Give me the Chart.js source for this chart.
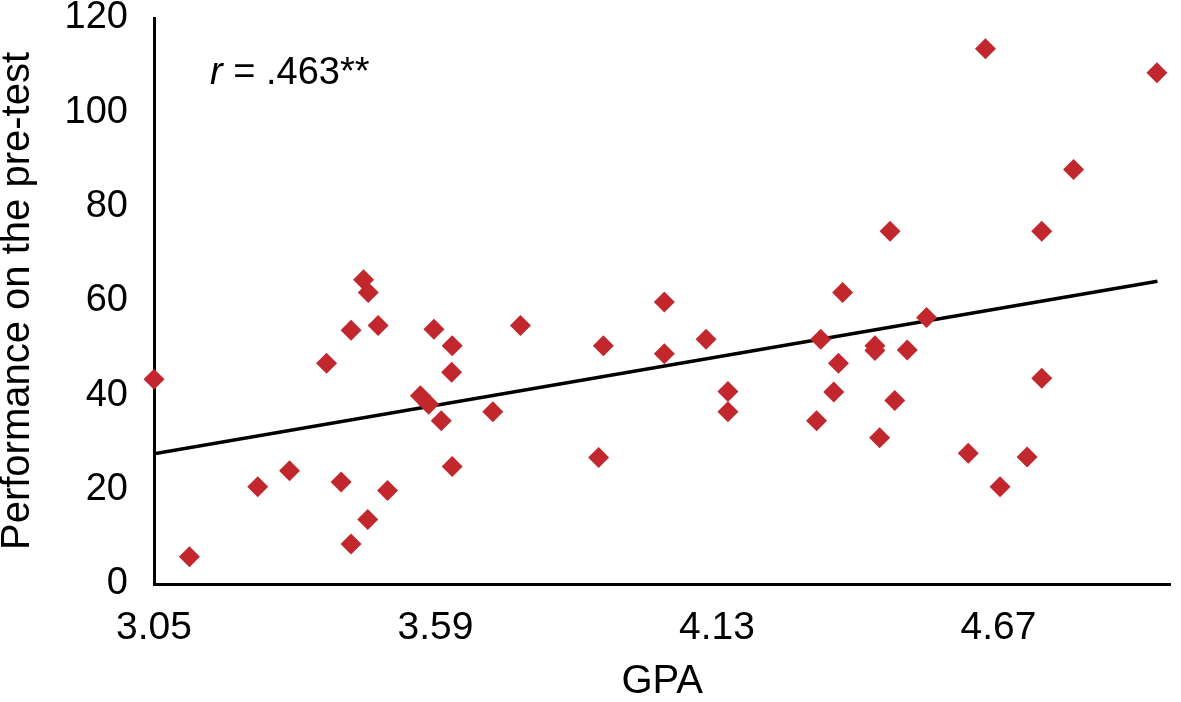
<!DOCTYPE html>
<html>
<head>
<meta charset="utf-8">
<script src="https://cdn.jsdelivr.net/npm/chart.js@4"></script>
<style>
  body { margin: 0; background: #fff; }
</style>
</head>
<body>
<canvas id="graficaGPA" width="1181" height="702"></canvas>
<script>
// datos
const gpa = [3.05, 3.118, 3.249, 3.310, 3.381, 3.428, 3.480, 3.452, 3.461, 3.409,
  3.498, 3.460, 3.428, 3.587, 3.622, 3.621, 3.561, 3.577, 3.601, 3.622,
  3.700, 3.753, 3.912, 3.903, 4.029, 4.029, 4.109, 4.151, 4.151, 4.371,
  4.329, 4.363, 4.354, 4.321, 4.433, 4.433, 4.495, 4.471, 4.442, 4.532,
  4.462, 4.753, 4.645, 4.974, 4.814, 4.753, 4.612, 4.725, 4.673];
const pretest = [43.4, 5.8, 20.6, 24.0, 46.8, 53.8, 54.8, 64.5, 61.8, 21.6,
  19.8, 13.7, 8.5, 54.0, 50.5, 44.9, 39.9, 38.1, 34.6, 24.9,
  36.5, 54.8, 50.5, 26.8, 59.8, 48.8, 51.9, 40.8, 36.5, 61.8,
  51.9, 46.8, 40.7, 34.6, 50.5, 49.5, 49.6, 38.9, 31.0, 56.5,
  74.8, 74.8, 113.5, 108.4, 87.9, 43.6, 27.7, 26.9, 20.6];

// línea de tendencia (extremos)
const trendGpa = [3.05, 4.975];
const trendScore = [27.6, 64.2];

const xTicks = [3.05, 3.59, 4.13, 4.67];
const yTicks = [0, 20, 40, 60, 80, 100, 120];

Chart.defaults.font.family = "'Liberation Sans', Arial, sans-serif";
Chart.defaults.color = '#000';

// texto r = .463**
const etiquetaR = {
  id: 'etiquetaR',
  afterDraw(chart) {
    const ctx = chart.ctx;
    const area = chart.chartArea;
    const x = area.left + 56, y = area.top + 66;
    ctx.save();
    ctx.fillStyle = '#000';
    ctx.textBaseline = 'alphabetic';
    ctx.font = "italic 38px 'Liberation Sans'";
    ctx.fillText('r', x, y);
    const w = ctx.measureText('r').width;
    ctx.font = "38px 'Liberation Sans'";
    ctx.fillText(' = .463**', x + w, y);
    ctx.restore();
  }
};

const ctx = document.getElementById('graficaGPA').getContext('2d');
new Chart(ctx, {
  type: 'scatter',
  data: {
    datasets: [{
      data: gpa.map((g, i) => ({ x: g, y: pretest[i] })),
      pointStyle: 'rectRot',
      pointRadius: 10.5,
      pointBorderWidth: 0,
      backgroundColor: '#C1272D',
      borderColor: '#C1272D',
      clip: false
    }, {
      data: trendGpa.map((g, i) => ({ x: g, y: trendScore[i] })),
      showLine: true,
      pointRadius: 0,
      borderColor: '#000',
      borderWidth: 3.5,
      tension: 0
    }]
  },
  options: {
    responsive: false,
    animation: false,
    events: [],
    layout: { padding: { top: 18, right: 4, left: 0, bottom: 0 } },
    plugins: {
      legend: { display: false },
      tooltip: { enabled: false }
    },
    scales: {
      x: {
        type: 'linear',
        min: 3.05,
        max: 5.0,
        afterBuildTicks: s => { s.ticks = xTicks.map(v => ({ value: v })); },
        afterFit: s => {
          s.height = 118;
          s.paddingLeft = 0;
          s.paddingRight = 0;
        },
        grid: { display: false, drawTicks: false },
        border: { color: '#000', width: 3 },
        ticks: {
          padding: 25,
          font: { size: 39, lineHeight: 1 },
          callback: v => v.toFixed(2)
        },
        title: {
          display: true,
          text: 'GPA',
          font: { size: 40, lineHeight: 1 },
          padding: 0
        }
      },
      y: {
        min: 0,
        max: 120,
        afterBuildTicks: s => { s.ticks = yTicks.map(v => ({ value: v })); },
        afterFit: s => {
          s.width = 154;
          s.paddingTop = 0;
          s.paddingBottom = 0;
        },
        grid: { display: false, drawTicks: false },
        border: { color: '#000', width: 3 },
        ticks: {
          padding: 26,
          font: { size: 38, lineHeight: 0.9 }
        },
        title: {
          display: true,
          text: 'Performance on the pre-test',
          font: { size: 40, lineHeight: 0.875 },
          padding: 0
        }
      }
    }
  },
  plugins: [etiquetaR]
});
</script>
</body>
</html>
